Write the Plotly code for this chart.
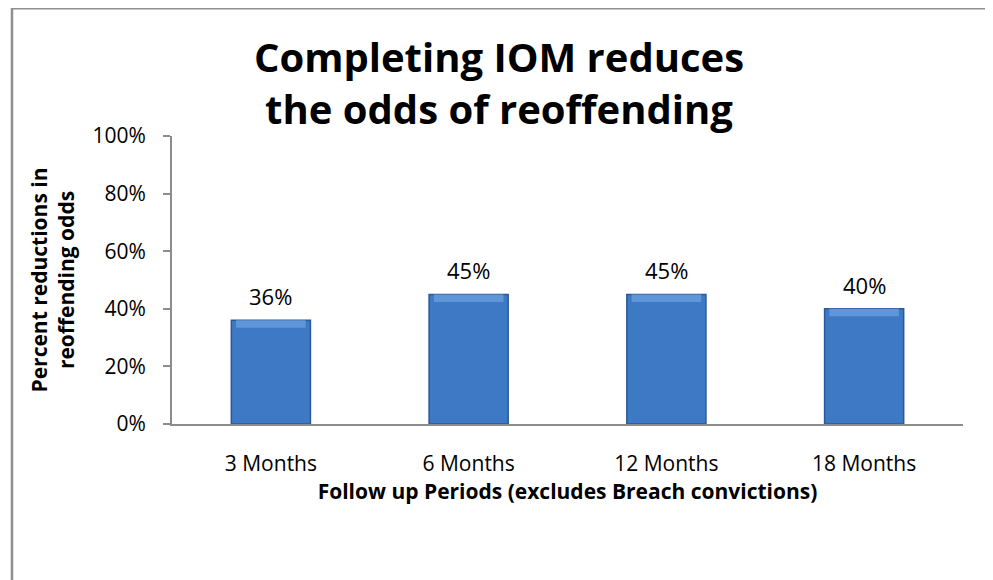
import plotly.graph_objects as go

categories = ["3 Months", "6 Months", "12 Months", "18 Months"]
values = [36, 45, 45, 40]
labels = ["36%", "45%", "45%", "40%"]
y_ticks = [0, 20, 40, 60, 80, 100]
y_ticktext = ["0%", "20%", "40%", "60%", "80%", "100%"]

FONT = "Open Sans"
BAR_W = 0.4
BEVEL = 2.6  # height of the lighter top bevel, in axis units

fig = go.Figure()
# main bar body
fig.add_trace(go.Bar(
    x=categories, y=values, width=BAR_W,
    marker=dict(color="#3e79c5", line=dict(color="#2b5896", width=1.5)),
    hoverinfo="skip",
))
# lighter top bevel highlight
fig.add_trace(go.Bar(
    x=categories, y=[BEVEL] * len(values), base=[v - BEVEL for v in values],
    width=BAR_W * 0.88,
    marker=dict(color="#5f96da", line=dict(width=0)),
    hoverinfo="skip",
))

for c, v, t in zip(categories, values, labels):
    fig.add_annotation(x=c, y=v, text=t, showarrow=False, yanchor="bottom",
                       yshift=7, font=dict(family=FONT, size=22, color="#000"))

# outer chart border
fig.add_shape(type="rect", xref="paper", yref="paper",
              x0=-0.2023, x1=1.0316, y0=-0.7, y1=1.444,
              line=dict(color="#8f8f8f", width=2.5), fillcolor="rgba(0,0,0,0)",
              layer="below")

fig.update_layout(
    width=993, height=580,
    margin=dict(l=164, r=38, t=128, b=164, autoexpand=False),
    paper_bgcolor="white", plot_bgcolor="white",
    barmode="overlay",
    showlegend=False,
    title=dict(text="<b>Completing IOM reduces<br>the odds of reoffending</b>",
               x=0.4134, xanchor="center", xref="paper",
               y=0.89, yanchor="middle", yref="container",
               font=dict(family=FONT, size=40, color="#000"), automargin=False),
    xaxis=dict(showline=True, linecolor="#8c8c8c", linewidth=2, automargin=False,
               ticks="", showgrid=False, ticklabelstandoff=20,
               tickfont=dict(family=FONT, size=21, color="#000"),
               title=dict(text="<b>Follow up Periods (excludes Breach convictions)</b>",
                          font=dict(family=FONT, size=21, color="#000"), standoff=3)),
    yaxis=dict(range=[0, 100], tickvals=y_ticks, ticktext=y_ticktext, automargin=False,
               showline=True, linecolor="#8c8c8c", linewidth=2,
               ticks="outside", ticklen=7, tickcolor="#8c8c8c", tickwidth=2,
               showgrid=False, zeroline=False, ticklabelstandoff=13,
               tickfont=dict(family=FONT, size=21, color="#000"),
               title=dict(text="<b>Percent reductions in<br>reoffending odds</b>",
                          font=dict(family=FONT, size=21, color="#000"), standoff=12)),
)

fig.write_html("out.html")
